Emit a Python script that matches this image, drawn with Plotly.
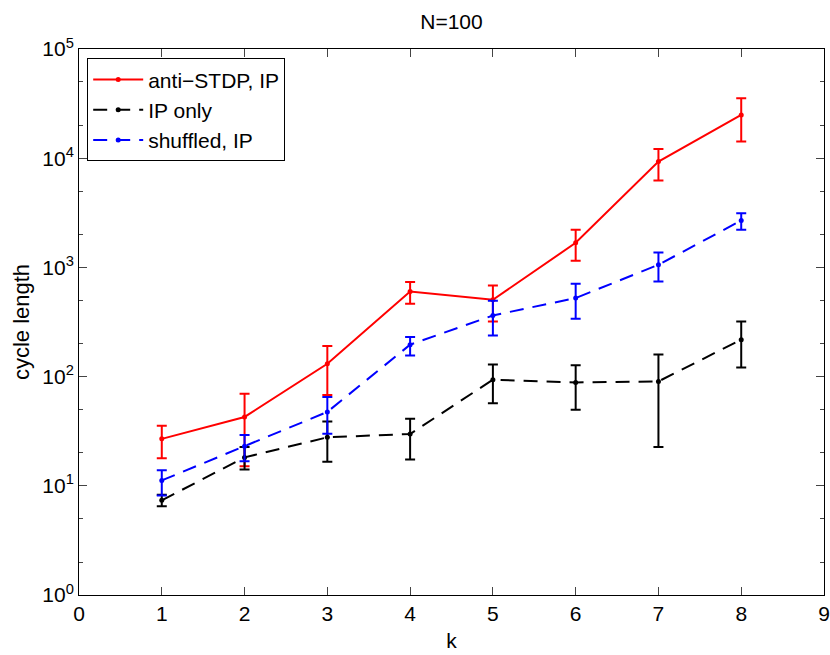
import plotly.graph_objects as go

k = [1, 2, 3, 4, 5, 6, 7, 8]

anti_mean = [26.9, 42.7, 131, 602, 505, 1679, 9310, 24900]
anti_hi = [35.5, 69.7, 191, 734, 683, 2208, 12170, 35400]
anti_lo = [17.9, 15.1, 67.9, 464, 320, 1149, 6240, 14190]

ip_mean = [7.36, 18.2, 27.8, 29.8, 93.7, 88.5, 90.4, 218]
ip_hi = [8.30, 22.7, 38.9, 41.2, 129, 127, 159, 320]
ip_lo = [6.49, 14.1, 16.6, 17.4, 56.9, 49.8, 22.7, 121]

shuf_mean = [11.2, 23.0, 47.5, 196, 363, 524, 1057, 2686]
shuf_hi = [13.9, 29.2, 65.1, 230, 495, 708, 1368, 3140]
shuf_lo = [8.13, 16.8, 30.0, 156, 238, 339, 743, 2208]

x_ticks = [0, 1, 2, 3, 4, 5, 6, 7, 8, 9]
y_ticks = [1, 10, 100, 1000, 10000, 100000]
y_ticktext = ["10<sup>0</sup>", "10<sup>1</sup>", "10<sup>2</sup>", "10<sup>3</sup>", "10<sup>4</sup>", "10<sup>5</sup>"]

series = [
    ("anti\u2212STDP, IP", anti_mean, anti_hi, anti_lo, "#ff0000", "solid"),
    ("IP only", ip_mean, ip_hi, ip_lo, "#000000", "14px,9px"),
    ("shuffled, IP", shuf_mean, shuf_hi, shuf_lo, "#0000ff", "14px,9px"),
]

fig = go.Figure()
for name, m, hi, lo, col, dash in series:
    fig.add_trace(go.Scatter(
        x=k, y=m, name=name, mode="lines+markers",
        line=dict(color=col, width=2, dash=dash),
        marker=dict(color=col, size=5),
        error_y=dict(type="data", symmetric=False,
                     array=[h - v for h, v in zip(hi, m)],
                     arrayminus=[v - l for l, v in zip(lo, m)],
                     color=col, thickness=2, width=5),
    ))

FONT = "Liberation Sans"
fig.update_layout(
    width=830, height=655,
    margin=dict(l=79, r=6, t=49, b=60, autoexpand=False),
    paper_bgcolor="white", plot_bgcolor="white",
    font=dict(family=FONT, size=21, color="black"),
    title=dict(text="N=100", x=451.5 / 830, xanchor="center",
               y=1 - 22 / 655, yanchor="middle",
               font=dict(family=FONT, size=21)),
    showlegend=True,
    legend=dict(x=0.011, y=0.983, xanchor="left", yanchor="top",
                bordercolor="black", borderwidth=1, bgcolor="white",
                font=dict(family=FONT, size=21), tracegroupgap=0, itemwidth=50),
    xaxis=dict(range=[0, 9], tickvals=x_ticks, ticks="inside", ticklen=8,
               tickfont=dict(family=FONT, size=21),
               showline=True, linecolor="black", linewidth=1, mirror="ticks",
               showgrid=False, zeroline=False, automargin=False,
               title=dict(text="k", standoff=9, font=dict(family=FONT, size=21))),
    yaxis=dict(type="log", range=[0, 5], tickvals=y_ticks, ticktext=y_ticktext,
               ticks="inside", ticklen=8,
               tickfont=dict(family=FONT, size=21),
               minor=dict(ticks="inside", ticklen=4, showgrid=False),
               showline=True, linecolor="black", linewidth=1, mirror="ticks",
               showgrid=False, zeroline=False, automargin=False,
               title=dict(text="cycle length", standoff=6, font=dict(family=FONT, size=22))),
)

fig.write_html("out.html", config={"displayModeBar": False},
               post_script="document.body.style.margin='0';document.body.style.overflow='hidden';")
